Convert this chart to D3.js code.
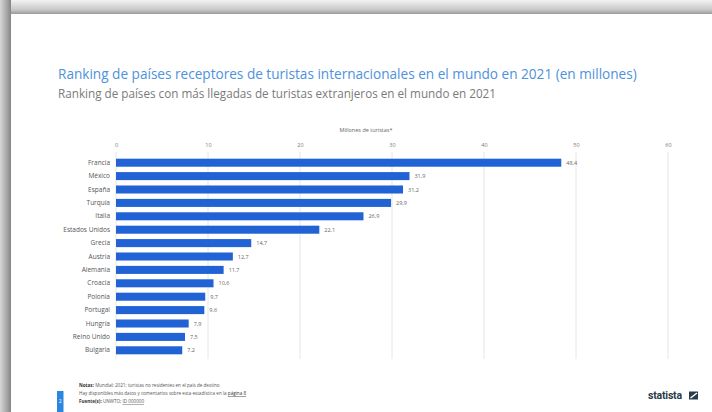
<!DOCTYPE html>
<html><head><meta charset="utf-8">
<script src="https://cdn.jsdelivr.net/npm/d3@7"></script>
<style>html,body{margin:0;padding:0;background:#fff;}svg{display:block;font-family:"Open Sans",sans-serif;}</style>
</head><body>
<script>
const categories = ["Francia","México","España","Turquía","Italia","Estados Unidos","Grecia","Austria","Alemania","Croacia","Polonia","Portugal","Hungría","Reino Unido","Bulgaria"];
const values = [48.4,31.9,31.2,29.9,26.9,22.1,14.7,12.7,11.7,10.6,9.7,9.6,7.9,7.5,7.2];
const tickValues = [0,10,20,30,40,50,60];
const title = "Ranking de países receptores de turistas internacionales en el mundo en 2021 (en millones)";
const subtitle = "Ranking de países con más llegadas de turistas extranjeros en el mundo en 2021";
const axisTitle = "Millones de turistas*";
const notes = ["Mundial; 2021; turistas no residentes en el país de destino"];

const W = 712, H = 412;
const svg = d3.select("body").append("svg").attr("width", W).attr("height", H);
const defs = svg.append("defs");
const gt = defs.append("linearGradient").attr("id","gt").attr("x1",0).attr("y1",0).attr("x2",0).attr("y2",1);
gt.append("stop").attr("offset","0%").attr("stop-color","#f2f2f2");
gt.append("stop").attr("offset","70%").attr("stop-color","#c8c8c8");
gt.append("stop").attr("offset","100%").attr("stop-color","#9a9a9a");
const gl = defs.append("linearGradient").attr("id","gl").attr("x1",0).attr("y1",0).attr("x2",1).attr("y2",0);
gl.append("stop").attr("offset","0%").attr("stop-color","#d8d8d8");
gl.append("stop").attr("offset","60%").attr("stop-color","#a8a8a8");
gl.append("stop").attr("offset","100%").attr("stop-color","#858585");

svg.append("rect").attr("x",0).attr("y",0).attr("width",W).attr("height",14).attr("fill","url(#gt)");
svg.append("rect").attr("x",0).attr("y",0).attr("width",11).attr("height",H).attr("fill","url(#gl)");
svg.append("rect").attr("x",11).attr("y",14).attr("width",W-11).attr("height",H-14).attr("fill","#fff");

svg.append("text").attr("x",58).attr("y",79).attr("font-size",13.6).attr("fill","#4d92dc").text(title);
svg.append("text").attr("x",58).attr("y",98).attr("font-size",11.7).attr("fill","#7a7a7a").text(subtitle);

const x = d3.scaleLinear().domain([0,60]).range([116,668]);
const y = d3.scaleBand().domain(categories).range([156,357]).paddingInner(0.4).paddingOuter(0.2);

svg.append("text").attr("x",366).attr("y",132).attr("text-anchor","middle").attr("font-size",5.5).attr("fill","#666").text(axisTitle);

const gx = svg.append("g").attr("transform","translate(0,147)")
  .call(d3.axisTop(x).tickValues(tickValues).tickSize(0).tickPadding(0));
gx.select(".domain").remove();
gx.selectAll("text").attr("font-size",5.5).attr("fill","#777").attr("font-family","Open Sans");

svg.append("g").selectAll("line").data(tickValues).join("line")
  .attr("x1",d=>x(d)).attr("x2",d=>x(d)).attr("y1",152).attr("y2",359)
  .attr("stroke","#e6e6e6").attr("stroke-width",1);

svg.append("g").selectAll("rect").data(values).join("rect")
  .attr("x",x(0)).attr("y",(d,i)=>y(categories[i]))
  .attr("width",d=>x(d)-x(0)).attr("height",y.bandwidth())
  .attr("fill","#2163d4");

svg.append("g").selectAll("text").data(values).join("text")
  .attr("x",d=>x(d)+5).attr("y",(d,i)=>y(categories[i])+y.bandwidth()/2+2)
  .attr("font-size",5.5).attr("fill","#666").text(d=>d.toFixed(1).replace(".",","));

const gy = svg.append("g").attr("transform","translate(110,0)")
  .call(d3.axisLeft(y).tickSize(0).tickPadding(0));
gy.select(".domain").remove();
gy.selectAll("text").attr("font-size",6.5).attr("fill","#555").attr("font-family","Open Sans");

// footer
const f = svg.append("g").attr("font-size",4.6).attr("fill","#555");
const t1 = f.append("text").attr("x",79).attr("y",387);
t1.append("tspan").attr("font-weight","bold").attr("fill","#333").text("Notas: ");
t1.append("tspan").text(notes[0]);
const t2 = f.append("text").attr("x",79).attr("y",395);
t2.append("tspan").text("Hay disponibles más datos y comentarios sobre esta estadística en la ");
t2.append("tspan").attr("text-decoration","underline").attr("fill","#333").text("página 8");
const t3 = f.append("text").attr("x",79).attr("y",403);
t3.append("tspan").attr("font-weight","bold").attr("fill","#333").text("Fuente(s): ");
t3.append("tspan").text("UNWTO; ");
t3.append("tspan").attr("text-decoration","underline").text("ID 000000");

svg.append("rect").attr("x",57).attr("y",391).attr("width",6.5).attr("height",21).attr("fill","#2b86e0");
svg.append("text").attr("x",60.2).attr("y",403).attr("text-anchor","middle").attr("font-size",5).attr("fill","#fff").text("2");

svg.append("text").attr("x",648).attr("y",399).attr("font-size",10.5).attr("font-weight","bold")
  .attr("font-family","Roboto").attr("letter-spacing","-0.2").attr("fill","#2a3a4a").text("statista");
svg.append("rect").attr("x",689).attr("y",391.5).attr("width",9).attr("height",8).attr("fill","#2a3a4a");
svg.append("path").attr("d","M690.5,398 L697,393").attr("stroke","#fff").attr("stroke-width",1.5);
</script>
</body></html>
